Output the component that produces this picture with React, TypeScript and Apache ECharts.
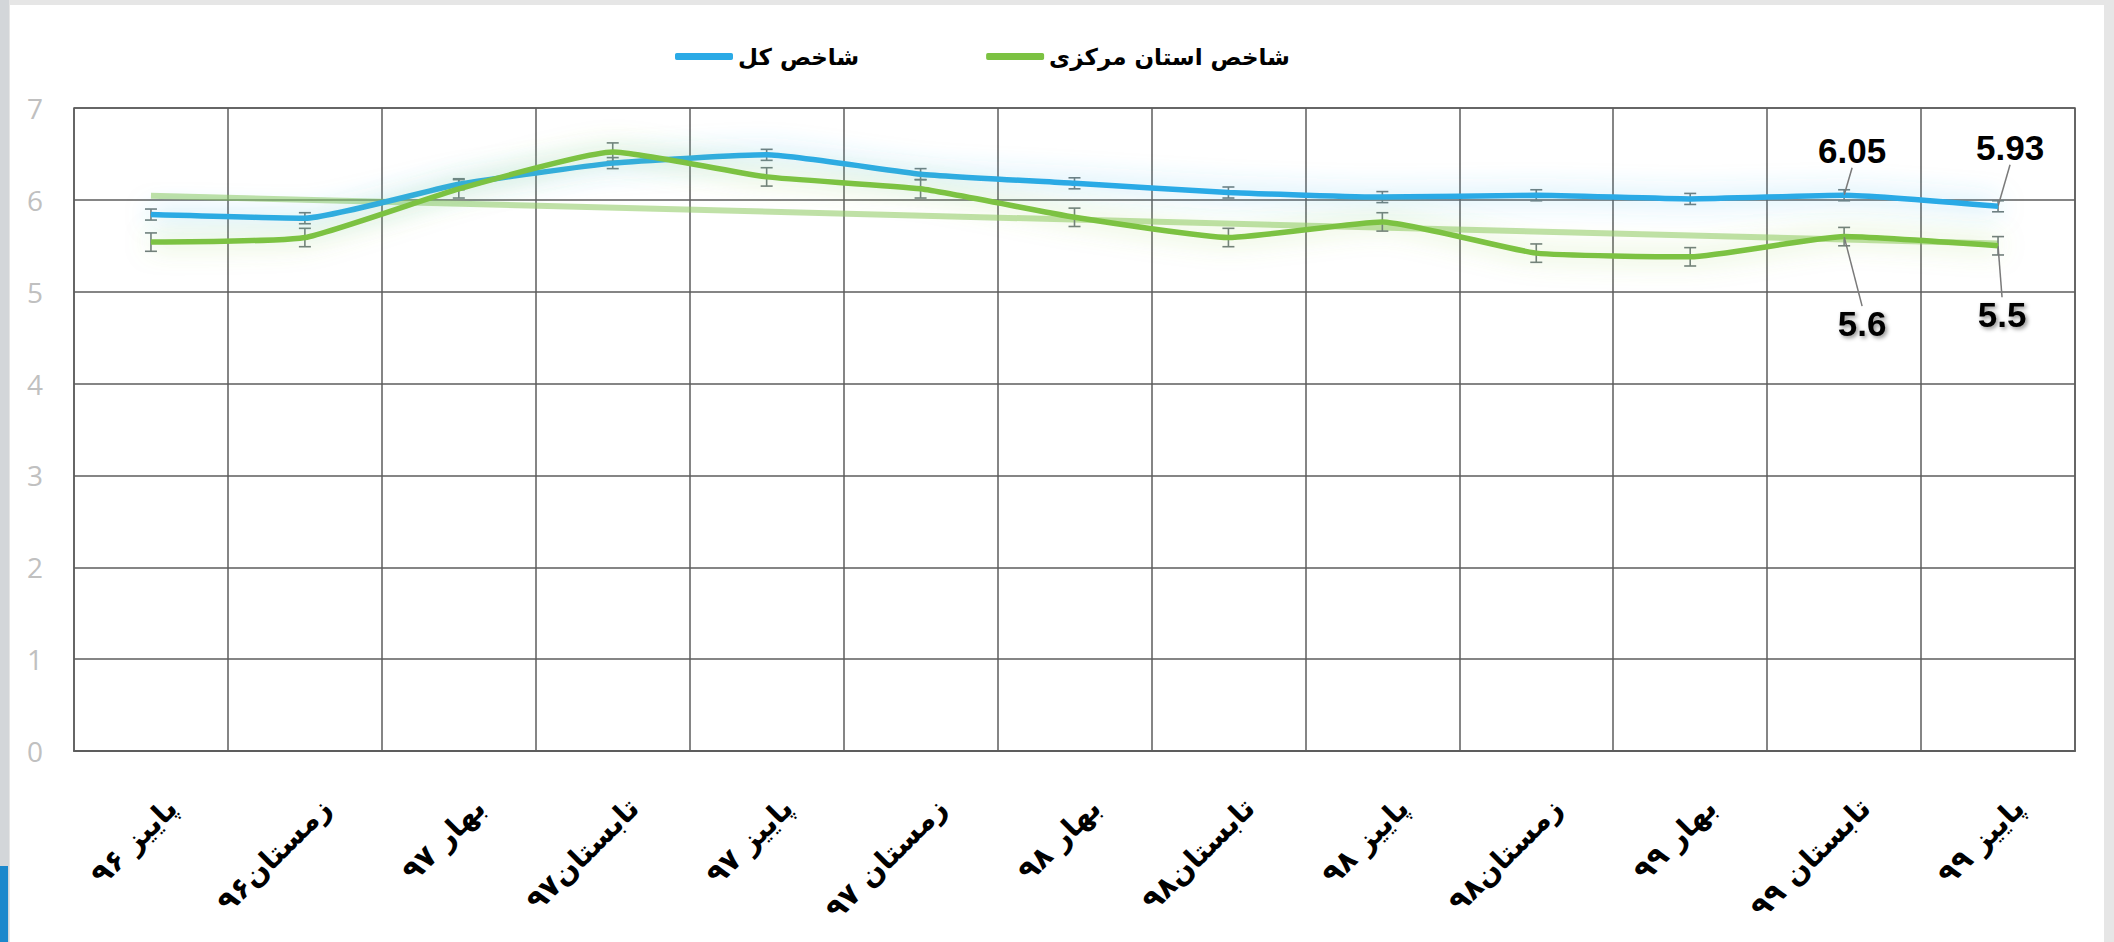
import React, { useEffect, useRef } from "react";
import * as echarts from "echarts";

const categories = [
  "پاییز ۹۶",
  "زمستان۹۶",
  "بهار ۹۷",
  "تابستان۹۷",
  "پاییز ۹۷",
  "زمستان ۹۷",
  "بهار ۹۸",
  "تابستان۹۸",
  "پاییز ۹۸",
  "زمستان۹۸",
  "بهار ۹۹",
  "تابستان ۹۹",
  "پاییز ۹۹",
];

const seriesNames = ["شاخص کل", "شاخص استان مرکزی"];

const totalIndex = [5.84, 5.8, 6.17, 6.4, 6.49, 6.28, 6.18, 6.08, 6.03, 6.05, 6.01, 6.05, 5.93];
const provinceIndex = [5.54, 5.59, 6.12, 6.52, 6.25, 6.12, 5.81, 5.59, 5.76, 5.42, 5.38, 5.6, 5.5];

const totalError = [0.06, 0.06, 0.06, 0.06, 0.06, 0.06, 0.06, 0.06, 0.06, 0.06, 0.06, 0.06, 0.06];
const provinceError = [0.1, 0.1, 0.1, 0.1, 0.1, 0.1, 0.1, 0.1, 0.1, 0.1, 0.1, 0.1, 0.1];

// linear trend of the province series, read at its two ends
const provinceTrendEnds = [6.045, 5.525];

const labelledPoints = [11, 12];

const yTicks = [0, 1, 2, 3, 4, 5, 6, 7];

const BLUE = "#2aaae6";
const GREEN = "#7cc242";
const GRID = "#5d5d5d";

export default function App() {
  const ref = useRef<HTMLDivElement>(null);

  useEffect(() => {
    document.body.style.margin = "0";
    if (!ref.current) return;
    const chart = echarts.init(ref.current, undefined, { renderer: "svg" });

    const trendData = categories.map((_, i) =>
      i === 0 ? provinceTrendEnds[0] : i === categories.length - 1 ? provinceTrendEnds[1] : null
    );

    const errorRender = (params: any, api: any) => {
      const idx = api.value(0);
      const v = api.value(1);
      const e = api.value(2);
      const top = api.coord([idx, v + e]);
      const bot = api.coord([idx, v - e]);
      const hw = 6;
      const st = { stroke: "#707c7c", lineWidth: 1.6 };
      return {
        type: "group",
        children: [
          { type: "line", shape: { x1: top[0], y1: top[1], x2: bot[0], y2: bot[1] }, style: st },
          { type: "line", shape: { x1: top[0] - hw, y1: top[1], x2: top[0] + hw, y2: top[1] }, style: st },
          { type: "line", shape: { x1: bot[0] - hw, y1: bot[1], x2: bot[0] + hw, y2: bot[1] }, style: st },
        ],
      };
    };

    const blueOffsets: Record<number, [number, number]> = { 11: [8, -22], 12: [12, -36] };
    const greenOffsets: Record<number, [number, number]> = { 11: [18, 64], 12: [4, 46] };

    const valueLabel = {
      fontFamily: "Liberation Sans, Arial, sans-serif",
      fontWeight: "bold",
      fontSize: 35,
      color: "#000",
    };

    const option: any = {
      animation: false,
      grid: [
        { left: 74, right: 39, top: 108, bottom: 191, show: true, borderColor: GRID, borderWidth: 1.5 },
        { left: 95, right: 18, top: 108, bottom: 191 },
      ],
      legend: {
        data: [
          { name: seriesNames[0], itemStyle: { color: BLUE } },
          { name: seriesNames[1], itemStyle: { color: GREEN } },
        ],
        left: 670,
        top: 40,
        icon: "roundRect",
        itemWidth: 58,
        itemHeight: 7,
        itemGap: 127,
        textStyle: {
          fontFamily: "DejaVu Sans",
          fontWeight: "bold",
          fontSize: 23,
          color: "#000",
        },
      },
      xAxis: [
        {
          type: "category",
          data: categories,
          gridIndex: 0,
          boundaryGap: true,
          axisLine: { show: true, lineStyle: { color: GRID, width: 2 } },
          axisTick: { show: false },
          axisLabel: { show: false },
          splitLine: { show: true, lineStyle: { color: GRID, width: 1.5 } },
        },
        {
          type: "category",
          data: categories,
          gridIndex: 1,
          boundaryGap: true,
          axisLine: { show: false },
          axisTick: { show: false },
          splitLine: { show: false },
          axisLabel: {
            show: true,
            interval: 0,
            rotate: 45,
            margin: 52,
            fontFamily: "DejaVu Sans",
            fontWeight: "bold",
            fontSize: 29,
            color: "#000",
          },
        },
      ],
      yAxis: [
        {
          type: "value",
          gridIndex: 0,
          min: yTicks[0],
          max: yTicks[yTicks.length - 1],
          interval: 1,
          axisLine: { show: false },
          axisTick: { show: false },
          axisLabel: {
            margin: 31,
            fontFamily: "Open Sans",
            fontSize: 28,
            color: "#c0c0c0",
          },
          splitLine: { show: true, lineStyle: { color: GRID, width: 1.5 } },
        },
        { type: "value", gridIndex: 1, min: 0, max: 7, show: false },
      ],
      series: [
        {
          name: "trend",
          type: "line",
          data: trendData,
          connectNulls: true,
          showSymbol: false,
          symbol: "none",
          silent: true,
          z: 1,
          lineStyle: { color: "rgba(140,200,95,0.55)", width: 6 },
        },
        {
          name: "err-total",
          type: "custom",
          data: totalIndex.map((v, i) => [i, v, totalError[i]]),
          renderItem: errorRender,
          encode: { x: 0, y: 1 },
          z: 2,
          silent: true,
        },
        {
          name: "err-province",
          type: "custom",
          data: provinceIndex.map((v, i) => [i, v, provinceError[i]]),
          renderItem: errorRender,
          encode: { x: 0, y: 1 },
          z: 2,
          silent: true,
        },
        {
          name: seriesNames[0],
          type: "line",
          data: totalIndex.map((v, i) =>
            labelledPoints.includes(i)
              ? { value: v, label: { show: true, position: "top", ...valueLabel } }
              : v
          ),
          smooth: 0.15,
          symbol: "circle",
          symbolSize: 1,
          showSymbol: true,
          z: 3,
          itemStyle: { color: BLUE },
          lineStyle: {
            color: BLUE,
            width: 5.5,
            shadowBlur: 26,
            shadowColor: "rgba(60,180,235,0.6)",
          },
          label: { show: false },
          labelLine: { show: true, lineStyle: { color: "#7a7a7a", width: 1.5 } },
          labelLayout: (p: any) => {
            const o = blueOffsets[p.dataIndex];
            return o ? { dx: o[0], dy: o[1] } : {};
          },
        },
        {
          name: seriesNames[1],
          type: "line",
          data: provinceIndex.map((v, i) =>
            labelledPoints.includes(i)
              ? {
                  value: v,
                  label: {
                    show: true,
                    position: "bottom",
                    ...valueLabel,
                    textShadowColor: "rgba(0,0,0,0.45)",
                    textShadowBlur: 4,
                    textShadowOffsetX: 2,
                    textShadowOffsetY: 2,
                  },
                }
              : v
          ),
          smooth: 0.15,
          symbol: "circle",
          symbolSize: 1,
          showSymbol: true,
          z: 3,
          itemStyle: { color: GREEN },
          lineStyle: {
            color: GREEN,
            width: 5.5,
            shadowBlur: 26,
            shadowColor: "rgba(150,210,85,0.6)",
          },
          label: { show: false },
          labelLine: { show: true, lineStyle: { color: "#7a7a7a", width: 1.5 } },
          labelLayout: (p: any) => {
            const o = greenOffsets[p.dataIndex];
            return o ? { dx: o[0], dy: o[1] } : {};
          },
        },
      ],
    };

    chart.setOption(option);
    return () => chart.dispose();
  }, []);

  return (
    <div style={{ position: "relative", width: 2114, height: 942, background: "#e6e6e6", overflow: "hidden" }}>
      <div style={{ position: "absolute", left: 0, top: 0, width: 9, height: 942, background: "#d3d6d9" }} />
      <div style={{ position: "absolute", left: 0, top: 866, width: 8, height: 76, background: "#1b88cc" }} />
      <div style={{ position: "absolute", left: 10, top: 5, width: 2094, height: 937, background: "#ffffff" }} />
      <div ref={ref} style={{ position: "absolute", left: 0, top: 0, width: 2114, height: 942 }} />
    </div>
  );
}
